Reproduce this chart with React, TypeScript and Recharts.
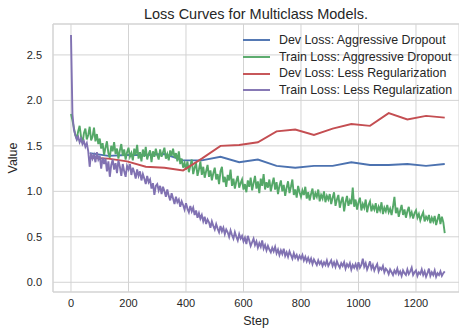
import { LineChart, Line, XAxis, YAxis, CartesianGrid, ReferenceLine } from "recharts";

const title = "Loss Curves for Multiclass Models.";
const seriesNames = [
  "Dev Loss: Aggressive Dropout",
  "Train Loss: Aggressive Dropout",
  "Dev Loss: Less Regularization",
  "Train Loss: Less Regularization",
];
const colors = ["#4C72B0", "#55A868", "#C44E52", "#8172B2"];

// dev loss is evaluated once per epoch (65 steps)
const devSteps = [65, 130, 195, 260, 325, 390, 455, 520, 585, 650, 715, 780, 845, 910, 975, 1040, 1105, 1170, 1235, 1300];
const devLossAggressive = [1.42, 1.39, 1.40, 1.40, 1.41, 1.34, 1.34, 1.38, 1.32, 1.35, 1.28, 1.26, 1.28, 1.28, 1.32, 1.29, 1.29, 1.30, 1.28, 1.30];
const devLossLessReg = [1.37, 1.36, 1.33, 1.27, 1.26, 1.23, 1.36, 1.50, 1.51, 1.54, 1.66, 1.68, 1.62, 1.69, 1.74, 1.72, 1.86, 1.79, 1.83, 1.81];

// train loss logged every 5 steps, 0..1300
const trainSteps = Array.from({ length: 261 }, (_, i) => i * 5);
const trainLossAggressive = [
  1.85, 1.78, 1.70, 1.62, 1.58, 1.66, 1.72, 1.60, 1.53, 1.64, 1.69, 1.57, 1.62, 1.71, 1.56, 1.60, 1.70, 1.55, 1.63, 1.52,
  1.58, 1.47, 1.53, 1.40, 1.48, 1.55, 1.42, 1.37, 1.50, 1.44, 1.54, 1.41, 1.47, 1.36, 1.45, 1.52, 1.39, 1.46, 1.35, 1.43,
  1.48, 1.38, 1.42, 1.34, 1.47, 1.40, 1.51, 1.36, 1.43, 1.33, 1.46, 1.38, 1.49, 1.35, 1.41, 1.45, 1.32, 1.44, 1.38, 1.47,
  1.40, 1.35, 1.46, 1.38, 1.43, 1.48, 1.36, 1.41, 1.34, 1.45, 1.39, 1.47, 1.37, 1.42, 1.33, 1.44, 1.30, 1.36, 1.26, 1.31,
  1.24, 1.33, 1.21, 1.28, 1.35, 1.19, 1.26, 1.31, 1.17, 1.24, 1.33, 1.18, 1.27, 1.15, 1.22, 1.29, 1.16, 1.23, 1.12, 1.20,
  1.26, 1.13, 1.19, 1.08, 1.22, 1.27, 1.10, 1.16, 1.05, 1.18, 1.12, 1.24, 1.06, 1.14, 1.03, 1.11, 1.17, 1.04, 1.09, 1.13,
  1.02, 1.08, 0.99, 1.12, 1.05, 1.15, 1.01, 1.09, 1.17, 1.03, 1.11, 0.98, 1.14, 1.06, 1.19, 1.02, 1.10, 1.04, 1.13, 1.00,
  1.08, 1.15, 1.02, 1.10, 0.97, 1.06, 1.12, 1.00, 1.07, 0.95, 1.04, 1.11, 0.98, 1.05, 1.13, 0.96, 1.02, 0.93, 1.06, 0.99,
  0.94, 1.01, 0.96, 1.05, 0.92, 0.99, 0.90, 0.97, 1.03, 0.91, 0.98, 0.94, 1.02, 0.89, 0.96, 0.92, 1.00, 0.88, 0.95, 0.91,
  0.97, 0.86, 0.93, 0.99, 0.84, 0.91, 0.96, 0.82, 0.89, 0.94, 0.78, 0.88, 0.95, 0.84, 0.90, 0.86, 1.04, 0.83, 0.91, 0.80,
  0.88, 0.93, 0.79, 0.86, 0.82, 0.91, 0.77, 0.85, 0.89, 0.78, 0.84, 0.80, 0.87, 0.76, 0.83, 0.79, 0.88, 0.75, 0.82, 0.78,
  0.85, 0.77, 0.81, 0.74, 0.83, 0.94, 0.76, 0.82, 0.72, 0.79, 0.85, 0.74, 0.80, 0.71, 0.78, 0.83, 0.73, 0.77, 0.70, 0.76,
  0.79, 0.71, 0.75, 0.68, 0.73, 0.77, 0.67, 0.72, 0.69, 0.74, 0.65, 0.71, 0.67, 0.73, 0.63, 0.69, 0.75, 0.64, 0.72, 0.66,
  0.54,
];
const trainLossLessReg = [
  2.72, 1.85, 1.68, 1.62, 1.57, 1.60, 1.54, 1.58, 1.52, 1.55, 1.49, 1.53, 1.44, 1.27, 1.42, 1.36, 1.40, 1.32, 1.43, 1.35,
  1.39, 1.25, 1.37, 1.30, 1.36, 1.22, 1.33, 1.16, 1.29, 1.35, 1.24, 1.31, 1.20, 1.34, 1.27, 1.17, 1.30, 1.22, 1.16, 1.28,
  1.24, 1.30, 1.18, 1.26, 1.21, 1.14, 1.24, 1.17, 1.22, 1.12, 1.19, 1.14, 1.08, 1.17, 1.10, 1.13, 1.03, 1.09, 0.96, 1.06,
  1.08, 1.01, 1.06, 0.97, 1.05, 1.00, 0.94, 1.02, 0.95, 0.90, 0.98, 0.92, 0.86, 0.94, 0.88, 0.91, 0.83, 0.89, 0.85, 0.80,
  0.87, 0.81, 0.77, 0.84, 0.78, 0.82, 0.74, 0.79, 0.71, 0.76, 0.70, 0.74, 0.67, 0.72, 0.64, 0.69, 0.66, 0.60, 0.67, 0.62,
  0.58, 0.64, 0.59, 0.55, 0.62, 0.56, 0.60, 0.53, 0.58, 0.55, 0.50, 0.57, 0.52, 0.48, 0.55, 0.50, 0.46, 0.53, 0.48, 0.51,
  0.45, 0.49, 0.42, 0.51, 0.46, 0.40, 0.44, 0.48, 0.41, 0.45, 0.38, 0.43, 0.39, 0.46, 0.37, 0.41, 0.35, 0.40, 0.36, 0.33,
  0.38, 0.34, 0.39, 0.32, 0.36, 0.30, 0.35, 0.31, 0.37, 0.29, 0.33, 0.28, 0.34, 0.30, 0.26, 0.32, 0.27, 0.30, 0.25, 0.29,
  0.26, 0.30, 0.24, 0.28, 0.23, 0.27, 0.22, 0.26, 0.20, 0.25, 0.22, 0.19, 0.24, 0.20, 0.23, 0.18, 0.22, 0.19, 0.24, 0.18,
  0.21, 0.24, 0.18, 0.22, 0.17, 0.23, 0.19, 0.16, 0.21, 0.18, 0.22, 0.15, 0.20, 0.17, 0.21, 0.14, 0.19, 0.16, 0.20, 0.15,
  0.22, 0.16, 0.19, 0.26, 0.17, 0.21, 0.14, 0.18, 0.23, 0.15, 0.19, 0.13, 0.17, 0.20, 0.12, 0.16, 0.14, 0.18, 0.11, 0.15,
  0.13, 0.09, 0.14, 0.11, 0.08, 0.13, 0.10, 0.15, 0.09, 0.12, 0.07, 0.13, 0.10, 0.08, 0.14, 0.09, 0.12, 0.16, 0.08, 0.11,
  0.13, 0.07, 0.11, 0.09, 0.14, 0.08, 0.12, 0.06, 0.10, 0.15, 0.07, 0.11, 0.08, 0.13, 0.06, 0.10, 0.08, 0.12, 0.07, 0.10,
  0.12,
];

const xTicks = [0, 200, 400, 600, 800, 1000, 1200];
const yTicks = [0, 0.5, 1, 1.5, 2, 2.5];

const toRows = (steps: number[], values: number[]) => steps.map((step, i) => ({ step, value: values[i] }));

const series = [
  toRows(devSteps, devLossAggressive),
  toRows(trainSteps, trainLossAggressive),
  toRows(devSteps, devLossLessReg),
  toRows(trainSteps, trainLossLessReg),
];

const font = "'Liberation Sans', Arial, sans-serif";
const textColor = "#262626";
const gridColor = "#d3d3d3";
const yDomain = [-0.107, 2.84];

export default function App() {
  return (
    <div style={{ position: "absolute", left: 0, top: 0, width: 459, height: 329, background: "#fff", fontFamily: font }}>
      <div style={{ position: "absolute", left: 53, top: 4, width: 406, textAlign: "center", fontSize: 14.5, lineHeight: "20px", color: textColor }}>
        {title}
      </div>
      <LineChart width={459} height={329} margin={{ top: 24, right: 0, bottom: 0, left: 0 }}>
        <CartesianGrid stroke={gridColor} strokeWidth={1} />
        <XAxis
          dataKey="step"
          type="number"
          domain={[-62.6, 1349.6]}
          ticks={xTicks}
          allowDataOverflow
          height={37}
          tickLine={false}
          tickSize={0}
          tickMargin={7}
          axisLine={{ stroke: gridColor }}
          tick={{ fontSize: 11, fill: textColor, fontFamily: font }}
          label={({ viewBox }: any) => (
            <text x={viewBox.x + viewBox.width / 2} y={325} textAnchor="middle" fontSize={12.5} fill={textColor} fontFamily={font}>
              Step
            </text>
          )}
        />
        <YAxis
          type="number"
          domain={yDomain}
          ticks={yTicks}
          allowDataOverflow
          width={53}
          tickLine={false}
          tickSize={0}
          tickMargin={11}
          axisLine={{ stroke: gridColor }}
          tickFormatter={(v: number) => v.toFixed(1)}
          tick={{ fontSize: 11, fill: textColor, fontFamily: font }}
          label={({ viewBox }: any) => {
            const cy = viewBox.y + viewBox.height / 2;
            return (
              <text x={17} y={cy} transform={`rotate(-90 17 ${cy})`} textAnchor="middle" fontSize={12.5} fill={textColor} fontFamily={font}>
                Value
              </text>
            );
          }}
        />
        <ReferenceLine y={yDomain[1]} stroke={gridColor} />
        {series.map((rows, i) => (
          <Line
            key={seriesNames[i]}
            data={rows}
            dataKey="value"
            name={seriesNames[i]}
            stroke={colors[i]}
            strokeWidth={1.9}
            dot={false}
            isAnimationActive={false}
          />
        ))}
      </LineChart>
      <div style={{ position: "absolute", left: 243, top: 32, fontSize: 12.4, lineHeight: "16.7px", color: textColor }}>
        {seriesNames.map((name, i) => (
          <div key={name} style={{ display: "flex", alignItems: "center", whiteSpace: "nowrap" }}>
            <svg width={27} height={4} style={{ marginRight: 9 }}>
              <line x1={0} y1={2} x2={27} y2={2} stroke={colors[i]} strokeWidth={1.9} />
            </svg>
            {name}
          </div>
        ))}
      </div>
    </div>
  );
}
